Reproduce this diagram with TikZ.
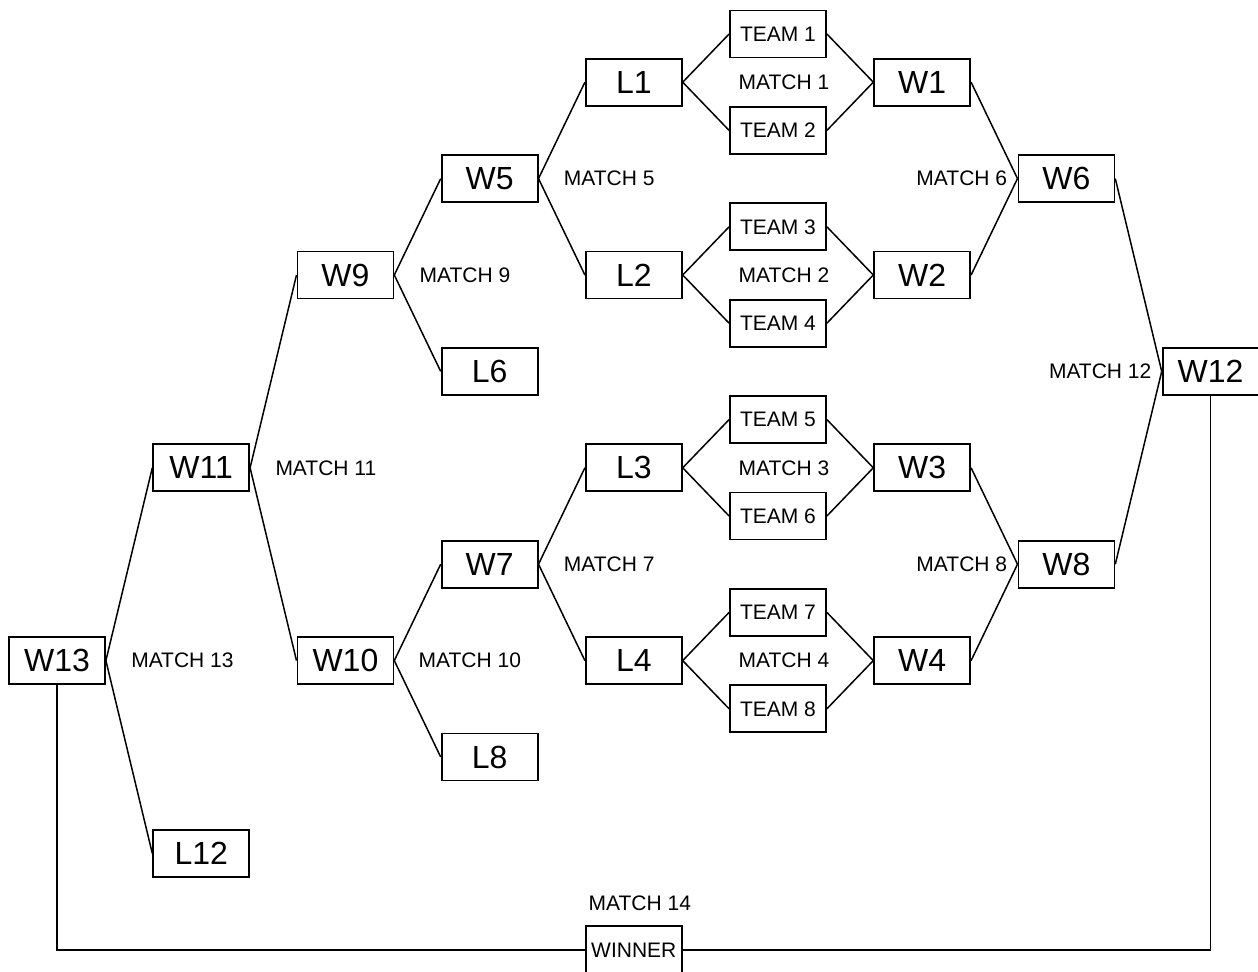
\documentclass[tikz,border=0pt]{standalone}
\usepackage{fontspec}
\setmainfont{Liberation Sans}
\usepackage{tikz}
\usetikzlibrary{positioning}

\begin{document}
\begin{tikzpicture}[
  x=72.1pt, y=-24.1pt,
  node distance=5pt,
  box/.style={draw, line width=0.9pt, minimum width=48pt, minimum height=23.5pt, inner sep=0pt, font=\fontsize{16}{16}\selectfont},
  team/.style={box, font=\fontsize{10.5}{10.5}\selectfont},
  lbl/.style={inner sep=0pt, font=\fontsize{10.5}{10.5}\selectfont},
  link/.style={line width=0.75pt}
]
\useasboundingbox (-0.3953,-0.7054) rectangle (8.3287,19.44);

% first round: teams, losers and winners
\foreach \i in {1,...,4} {
  \pgfmathtruncatemacro{\ta}{2*\i-1}
  \pgfmathtruncatemacro{\tb}{2*\i}
  \node[team] (t\ta) at (5,4*\i-4) {TEAM \ta};
  \node[team] (t\tb) at (5,4*\i-2) {TEAM \tb};
  \node[box] (l\i) at (4,4*\i-3) {L\i};
  \node[box] (w\i) at (6,4*\i-3) {W\i};
  \node[lbl, xshift=3pt] (m\i) at (5,4*\i-3) {MATCH \i};
  \draw[link] (l\i.east) -- (t\ta.west);
  \draw[link] (l\i.east) -- (t\tb.west);
  \draw[link] (t\ta.east) -- (w\i.west);
  \draw[link] (t\tb.east) -- (w\i.west);
}

% winners side
\node[box] (w6) at (7,3) {W6};
\node[box] (w8) at (7,11) {W8};
\node[box] (w12) at (8,7) {W12};
\node[lbl, left=of w6] (m6) {MATCH 6};
\node[lbl, left=of w8] (m8) {MATCH 8};
\node[lbl, left=of w12] (m12) {MATCH 12};
\draw[link] (w1.east) -- (w6.west);
\draw[link] (w2.east) -- (w6.west);
\draw[link] (w3.east) -- (w8.west);
\draw[link] (w4.east) -- (w8.west);
\draw[link] (w6.east) -- (w12.west);
\draw[link] (w8.east) -- (w12.west);

% losers side
\node[box] (w5) at (3,3) {W5};
\node[box] (l6) at (3,7) {L6};
\node[box] (w7) at (3,11) {W7};
\node[box] (l8) at (3,15) {L8};
\node[box] (w9) at (2,5) {W9};
\node[box] (w10) at (2,13) {W10};
\node[box] (w11) at (1,9) {W11};
\node[box] (l12) at (1,17) {L12};
\node[box] (w13) at (0,13) {W13};
\node[lbl, right=12.5pt of w5] (m5) {MATCH 5};
\node[lbl, right=12.5pt of w7] (m7) {MATCH 7};
\node[lbl, right=12.5pt of w9] (m9) {MATCH 9};
\node[lbl, right=12pt of w10] (m10) {MATCH 10};
\node[lbl, right=12.5pt of w11] (m11) {MATCH 11};
\node[lbl, right=12.5pt of w13] (m13) {MATCH 13};
\draw[link] (w5.east) -- (l1.west);
\draw[link] (w5.east) -- (l2.west);
\draw[link] (w7.east) -- (l3.west);
\draw[link] (w7.east) -- (l4.west);
\draw[link] (w9.east) -- (w5.west);
\draw[link] (w9.east) -- (l6.west);
\draw[link] (w10.east) -- (w7.west);
\draw[link] (w10.east) -- (l8.west);
\draw[link] (w11.east) -- (w9.west);
\draw[link] (w11.east) -- (w10.west);
\draw[link] (w13.east) -- (w11.west);
\draw[link] (w13.east) -- (l12.west);

% final
\node[team] (winner) at (4,19) {WINNER};
\node[lbl, above=7pt of winner, xshift=3pt] (m14) {MATCH 14};
\draw[link] (w13.south) |- (winner.west);
\draw[link] (w12.south) |- (winner.east);
\end{tikzpicture}
\end{document}
